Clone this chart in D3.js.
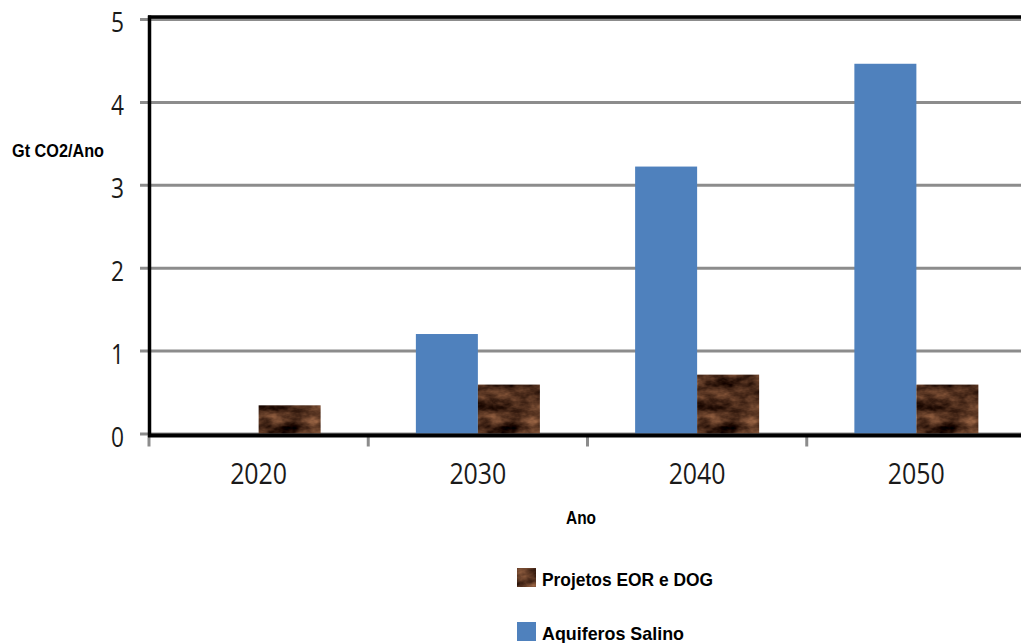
<!DOCTYPE html>
<html>
<head>
<meta charset="utf-8">
<script src="https://cdn.jsdelivr.net/npm/d3@7"></script>
<style>
  html, body { margin: 0; padding: 0; background: #fff; }
  svg { display: block; }
</style>
</head>
<body>
<svg id="chart" width="1021" height="643"></svg>
<script>
const years = ["2020", "2030", "2040", "2050"];
const aquiferos = [0, 1.20, 3.22, 4.46];   // Aquiferos Salino
const projetos  = [0.34, 0.59, 0.71, 0.59]; // Projetos EOR e DOG
const yTicks = [0, 1, 2, 3, 4, 5];
const seriesNames = ["Aquiferos Salino", "Projetos EOR e DOG"];
const legendOrder = ["Projetos EOR e DOG", "Aquiferos Salino"];
const yTitle = "Gt CO2/Ano";
const xTitle = "Ano";

const svg = d3.select("#chart");
const pLeft = 149, pRight = 1026, pTop = 19, pBottom = 433.5;

const defs = svg.append("defs");
const f = defs.append("filter").attr("id", "soil")
  .attr("x", 0).attr("y", 0).attr("width", 1).attr("height", 1)
  .attr("color-interpolation-filters", "sRGB");
f.append("feTurbulence").attr("type", "fractalNoise")
  .attr("baseFrequency", "0.045 0.08").attr("numOctaves", 4).attr("seed", 11).attr("result", "n");
f.append("feColorMatrix").attr("in", "n").attr("type", "matrix")
  .attr("values", "0.85 0 0 0 -0.13  0.62 0 0 0 -0.14  0.45 0 0 0 -0.12  0 0 0 0 1").attr("result", "c");
f.append("feComposite").attr("in", "c").attr("in2", "SourceGraphic").attr("operator", "in");

const x0 = d3.scaleBand().domain(years).range([pLeft, pRight]).padding(0);
const x1 = d3.scaleBand().domain(seriesNames).range([0, x0.bandwidth()]).paddingInner(0).paddingOuter(0.768);
const y = d3.scaleLinear().domain([0, 5]).range([pBottom, pTop]);

// gridlines + y ticks
const gy = svg.append("g").attr("transform", `translate(${pLeft},0)`)
  .call(d3.axisLeft(y).tickValues(yTicks).tickSize(-(pRight - pLeft)).tickFormat(""));
gy.select(".domain").remove();
gy.selectAll("line").attr("stroke", "#8c8c8c").attr("stroke-width", 3).attr("x1", -9);

// bars
const data = years.map((yr, i) => ({ year: yr, vals: [
  { key: "Aquiferos Salino", v: aquiferos[i] },
  { key: "Projetos EOR e DOG", v: projetos[i] }
]}));
const groups = svg.append("g").selectAll("g").data(data).join("g")
  .attr("transform", d => `translate(${x0(d.year)},0)`);
groups.selectAll("rect").data(d => d.vals.filter(e => e.v > 0)).join("rect")
  .attr("x", d => x1(d.key))
  .attr("width", x1.bandwidth())
  .attr("y", d => y(d.v))
  .attr("height", d => y(0) - y(d.v))
  .attr("fill", d => d.key === "Aquiferos Salino" ? "#4f81bd" : "#4a2e1e")
  .attr("filter", d => d.key === "Aquiferos Salino" ? null : "url(#soil)");

// y labels
const gl = svg.append("g").attr("transform", `translate(${pLeft},0)`)
  .call(d3.axisLeft(y).tickValues(yTicks).tickSize(0).tickPadding(25).tickFormat(d3.format("d")));
gl.select(".domain").remove();
gl.selectAll("text")
  .attr("font-family", "Open Sans").attr("font-size", 28).attr("fill", "#1a1a1a")
  .attr("dy", "0.45em")
  .attr("textLength", 13).attr("lengthAdjust", "spacingAndGlyphs");

// x labels
const gx = svg.append("g").attr("transform", `translate(0,${pBottom})`)
  .call(d3.axisBottom(x0).tickSize(0).tickPadding(50));
gx.select(".domain").remove();
gx.selectAll("text")
  .attr("font-family", "Open Sans").attr("font-size", 29).attr("fill", "#1a1a1a")
  .attr("dy", "0")
  .attr("textLength", 57).attr("lengthAdjust", "spacingAndGlyphs");

// category boundary ticks
svg.append("g").selectAll("line").data(years).join("line")
  .attr("x1", d => x0(d)).attr("x2", d => x0(d))
  .attr("y1", pBottom + 3).attr("y2", pBottom + 13)
  .attr("stroke", "#8c8c8c").attr("stroke-width", 3);

// frame lines
svg.append("line").attr("x1", pLeft - 1).attr("x2", 1021).attr("y1", 17).attr("y2", 17)
  .attr("stroke", "#000").attr("stroke-width", 3.5);
svg.append("line").attr("x1", pLeft + 0.5).attr("x2", pLeft + 0.5).attr("y1", 15.5).attr("y2", 437)
  .attr("stroke", "#000").attr("stroke-width", 3.5);
svg.append("line").attr("x1", pLeft - 1).attr("x2", 1021).attr("y1", 435.5).attr("y2", 435.5)
  .attr("stroke", "#000").attr("stroke-width", 4);

// titles
svg.append("text").attr("x", 12).attr("y", 157).text(yTitle)
  .attr("font-family", "Liberation Sans").attr("font-weight", "bold").attr("font-size", 19)
  .attr("fill", "#000").attr("textLength", 92).attr("lengthAdjust", "spacingAndGlyphs");
svg.append("text").attr("x", 566).attr("y", 524).text(xTitle)
  .attr("font-family", "Liberation Sans").attr("font-weight", "bold").attr("font-size", 19)
  .attr("fill", "#000").attr("textLength", 30).attr("lengthAdjust", "spacingAndGlyphs");

// legend
const lg = svg.append("g").selectAll("g").data(legendOrder).join("g")
  .attr("transform", (d, i) => `translate(517,${568 + i * 54})`);
lg.append("rect").attr("width", 19).attr("height", 19)
  .attr("fill", d => d === "Aquiferos Salino" ? "#4f81bd" : "#4a2e1e")
  .attr("filter", d => d === "Aquiferos Salino" ? null : "url(#soil)");
lg.append("text").attr("x", 25).attr("y", 18).text(d => d)
  .attr("font-family", "Liberation Sans").attr("font-weight", "bold").attr("font-size", 19)
  .attr("fill", "#000")
  .attr("textLength", d => d === "Aquiferos Salino" ? 142 : 171).attr("lengthAdjust", "spacingAndGlyphs");
</script>
</body>
</html>
